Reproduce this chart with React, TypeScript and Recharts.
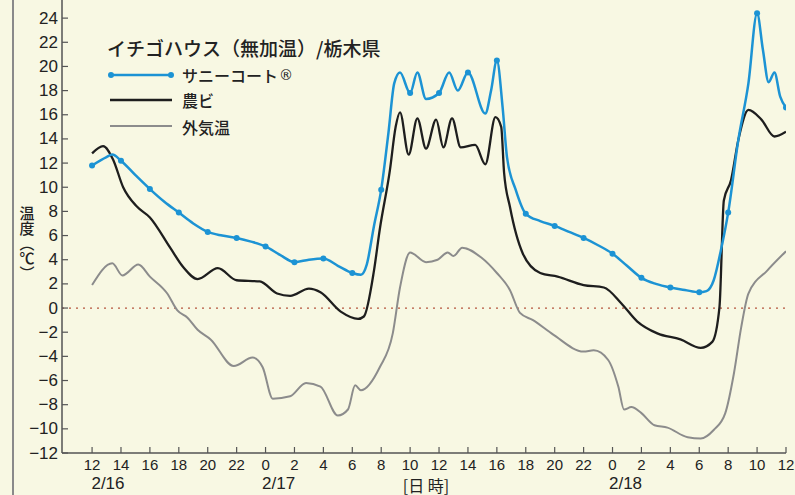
import React from "react";
import { LineChart, Line, XAxis, YAxis, ReferenceLine } from "recharts";

// ---- data (hours counted from 2/16 12:00) ----
const sunnyHours = [0, 1.0, 1.4, 2, 3, 4, 5, 6, 7, 8, 9, 10, 11, 12, 13, 14, 15, 16, 17, 18, 18.6, 19.0, 19.5, 20, 20.5, 20.9, 21.3, 22, 22.5, 23.1, 24, 24.7, 25.3, 26, 27.2, 27.6, 28, 28.4, 28.7, 29.3, 30, 31, 32, 33, 34, 35, 36, 37, 38, 39, 40, 41, 42, 42.5, 43.0, 43.5, 44, 44.7, 45.4, 46, 46.4, 46.8, 47.2, 47.6, 48];
const sunnyValues = [11.8, 12.5, 12.7, 12.2, 11.0, 9.85, 8.8, 7.9, 7.0, 6.3, 6.0, 5.8, 5.5, 5.1, 4.4, 3.8, 4.0, 4.1, 3.5, 2.9, 2.75, 3.6, 6.8, 9.8, 14.5, 18.6, 19.5, 17.8, 19.5, 17.3, 17.8, 19.5, 18.0, 19.5, 16.1, 18.0, 20.5, 16.6, 12.5, 9.8, 7.8, 7.2, 6.8, 6.3, 5.8, 5.2, 4.5, 3.5, 2.5, 2.0, 1.7, 1.5, 1.3, 1.4, 2.3, 4.8, 7.9, 13.9, 18.6, 24.4, 21.4, 18.7, 19.5, 17.5, 16.6];

const vinylHours = [0, 0.76, 1.45, 2.15, 3.1, 4.0, 5.4, 6.3, 7.3, 8.7, 10.0, 11.6, 12.8, 13.7, 15.0, 15.8, 17.2, 18.4, 18.8, 19.5, 19.9, 20.6, 21.0, 21.3, 21.9, 22.5, 23.1, 23.8, 24.3, 24.9, 25.5, 26.5, 27.2, 27.9, 28.3, 28.5, 28.9, 29.8, 31.0, 32.2, 34.0, 35.4, 36.6, 37.7, 39.1, 40.7, 42.1, 42.9, 43.4, 43.7, 44.2, 44.7, 45.4, 46.3, 47.2, 48.0];
const vinylValues = [12.8, 13.4, 12.3, 10.0, 8.4, 7.5, 5.0, 3.4, 2.4, 3.3, 2.3, 2.2, 1.2, 1.0, 1.6, 1.3, -0.3, -0.9, -0.7, 3.1, 6.5, 11.4, 15.0, 16.2, 12.7, 15.7, 13.2, 15.6, 13.3, 15.7, 13.3, 13.5, 11.9, 15.8, 15.0, 11.2, 8.4, 4.5, 2.9, 2.6, 1.9, 1.7, 0.4, -1.1, -2.1, -2.6, -3.3, -2.8, 0.1, 8.9, 10.6, 13.9, 16.4, 15.6, 14.2, 14.6];

const outsideHours = [0, 1.4, 2.1, 3.2, 4.0, 5.2, 5.9, 6.6, 7.3, 8.2, 9.8, 11.1, 11.8, 12.5, 13.7, 14.8, 15.8, 17.0, 17.7, 18.2, 18.6, 19.9, 20.8, 21.3, 22.0, 23.1, 23.9, 24.6, 25.0, 25.6, 26.9, 28.0, 28.9, 29.6, 30.5, 31.9, 34.0, 34.7, 35.7, 36.4, 36.8, 37.3, 38.0, 38.9, 39.8, 41.2, 42.1, 43.0, 43.8, 44.4, 44.9, 45.4, 46.7, 48.0];
const outsideValues = [1.9, 3.7, 2.7, 3.6, 2.6, 1.2, -0.2, -0.8, -1.8, -2.6, -4.8, -4.1, -4.9, -7.5, -7.3, -6.2, -6.5, -8.9, -8.4, -6.4, -6.8, -4.9, -2.1, 1.7, 4.6, 3.8, 4.0, 4.6, 4.3, 5.0, 4.2, 2.9, 1.5, -0.4, -1.0, -2.2, -3.6, -3.5, -4.3, -6.5, -8.4, -8.2, -8.7, -9.7, -9.9, -10.7, -10.8, -10.1, -8.7, -5.4, -1.6, 1.2, 3.1, 4.7];

const hourTicks = [0, 2, 4, 6, 8, 10, 12, 14, 16, 18, 20, 22, 24, 26, 28, 30, 32, 34, 36, 38, 40, 42, 44, 46, 48];
const hourTickLabels = ["12", "14", "16", "18", "20", "22", "0", "2", "4", "6", "8", "10", "12", "14", "16", "18", "20", "22", "0", "2", "4", "6", "8", "10", "12"];
const dateTicks = [1.1, 12.9, 23.1, 36.9];
const dateTickLabels = ["2/16", "2/17", "[日 時]", "2/18"];
const yTicks = [-12, -10, -8, -6, -4, -2, 0, 2, 4, 6, 8, 10, 12, 14, 16, 18, 20, 22, 24];

const seriesNames = ["サニーコート", "農ビ", "外気温"];
const registeredMark = "®";
const chartTitle = "イチゴハウス（無加温）/栃木県";
const yAxisTitle = "温度（℃）";

const toPoints = (hs: number[], vs: number[]) => hs.map((h, i) => ({ h, v: vs[i] }));
const sunnyData = toPoints(sunnyHours, sunnyValues);
const vinylData = toPoints(vinylHours, vinylValues);
const outsideData = toPoints(outsideHours, outsideValues);

// ---- styles ----
const BG = "#f8f8e3";
const BLUE = "#1c93d4";
const BLACK = "#1e1e1e";
const GREY = "#8c8c8c";
const AXIS = "#555";
const TEXT = "#222";
const NUM_FONT = "'Liberation Sans', Arial, sans-serif";
const JP_FONT = "'Noto Sans CJK JP', 'Noto Sans', sans-serif";

const HourTick = (props: any) => {
  const { x, y, payload } = props;
  const idx = hourTicks.indexOf(payload.value);
  return (
    <g>
      <line x1={x} x2={x} y1={y} y2={y - 6} stroke={AXIS} strokeWidth={1.2} />
      <text x={x} y={y + 11} textAnchor="middle" dominantBaseline="central" fontSize={15} fontFamily={NUM_FONT} fill={TEXT}>
        {idx >= 0 ? hourTickLabels[idx] : ""}
      </text>
    </g>
  );
};

const DateTick = (props: any) => {
  const { x, y, payload } = props;
  const idx = dateTicks.indexOf(payload.value);
  const label = idx >= 0 ? dateTickLabels[idx] : "";
  const isJp = /[日時]/.test(label);
  return (
    <text x={x} y={y + (isJp ? 11.5 : 10)} textAnchor="middle" dominantBaseline="central" fontSize={isJp ? 16 : 17} fontFamily={isJp ? JP_FONT : NUM_FONT} fill={TEXT}>
      {label}
    </text>
  );
};

const YTick = (props: any) => {
  const { x, y, payload } = props;
  const v = payload.value as number;
  const label = v < 0 ? "\u2212" + Math.abs(v) : String(v);
  return (
    <g>
      <line x1={x + 4} x2={x + 10} y1={y} y2={y} stroke={AXIS} strokeWidth={1.2} />
      <text x={x} y={y} textAnchor="end" dominantBaseline="central" fontSize={17} fontFamily={NUM_FONT} fill={TEXT}>
        {label}
      </text>
    </g>
  );
};

const SunnyDot = (props: any) => {
  const { cx, cy, payload, index } = props;
  const h = payload.h as number;
  if (Number.isInteger(h) && h % 2 === 0) {
    return <circle key={"d" + index} cx={cx} cy={cy} r={3} fill={BLUE} stroke="none" />;
  }
  return <g key={"d" + index} />;
};

export default function App() {
  return (
    <div style={{ position: "absolute", left: 0, top: 0, width: 795, height: 495, background: BG, overflow: "hidden" }}>
      <div style={{ position: "absolute", left: 12, top: 0, width: 1.5, height: 495, background: "#8a8a8a" }} />
      <LineChart width={795} height={495} margin={{ top: 0, right: 9, bottom: 0, left: 0 }}>
        <XAxis
          xAxisId="a"
          type="number"
          dataKey="h"
          domain={[-2.08, 48]}
          allowDataOverflow
          ticks={hourTicks}
          interval={0}
          height={20}
          tickSize={0}
          tickMargin={0}
          tickLine={false}
          axisLine={{ stroke: AXIS, strokeWidth: 1.5 }}
          tick={<HourTick />}
        />
        <XAxis
          xAxisId="b"
          type="number"
          dataKey="h"
          domain={[-2.08, 48]}
          allowDataOverflow
          ticks={dateTicks}
          interval={0}
          height={22}
          tickSize={0}
          tickMargin={0}
          tickLine={false}
          axisLine={false}
          tick={<DateTick />}
        />
        <YAxis
          type="number"
          dataKey="v"
          domain={[-12, 25.5]}
          allowDataOverflow
          ticks={yTicks}
          interval={0}
          width={62}
          tickSize={0}
          tickMargin={4}
          tickLine={false}
          axisLine={{ stroke: AXIS, strokeWidth: 1.5 }}
          tick={<YTick />}
        />
        <ReferenceLine xAxisId="a" y={0} stroke="#b5553f" strokeWidth={1.2} strokeDasharray="2 5" />
        <Line xAxisId="a" data={outsideData} dataKey="v" type="monotone" stroke={GREY} strokeWidth={2} dot={false} isAnimationActive={false} />
        <Line xAxisId="a" data={vinylData} dataKey="v" type="monotone" stroke={BLACK} strokeWidth={2.3} dot={false} isAnimationActive={false} />
        <Line xAxisId="a" data={sunnyData} dataKey="v" type="monotone" stroke={BLUE} strokeWidth={2.5} dot={<SunnyDot />} isAnimationActive={false} />
      </LineChart>
      <svg width={795} height={495} style={{ position: "absolute", left: 0, top: 0, pointerEvents: "none" }}>
        <text x={107} y={47} dominantBaseline="central" fontSize={19} fontWeight={500} fontFamily={JP_FONT} fill={TEXT}>
          {chartTitle}
        </text>
        <line x1={110} x2={172} y1={75} y2={75} stroke={BLUE} strokeWidth={2.5} />
        <circle cx={111} cy={75} r={3} fill={BLUE} />
        <circle cx={171} cy={75} r={3} fill={BLUE} />
        <text x={182} y={75} dominantBaseline="central" fontSize={16} fontWeight={500} fontFamily={JP_FONT} fill={TEXT}>
          {seriesNames[0]}
          <tspan fontFamily="'DejaVu Sans', sans-serif" fontSize={14} fontWeight={400} dx={1}>{registeredMark}</tspan>
        </text>
        <line x1={110} x2={172} y1={100} y2={100} stroke={BLACK} strokeWidth={2.3} />
        <text x={182} y={100} dominantBaseline="central" fontSize={16} fontWeight={500} fontFamily={JP_FONT} fill={TEXT}>{seriesNames[1]}</text>
        <line x1={110} x2={172} y1={126} y2={126} stroke={GREY} strokeWidth={2} />
        <text x={182} y={127} dominantBaseline="central" fontSize={16} fontWeight={500} fontFamily={JP_FONT} fill={TEXT}>{seriesNames[2]}</text>
        <text x={27} y={206} style={{ writingMode: "vertical-rl" }} fontSize={15} fontWeight={500} fontFamily={JP_FONT} fill={TEXT}>{yAxisTitle}</text>
      </svg>
    </div>
  );
}
